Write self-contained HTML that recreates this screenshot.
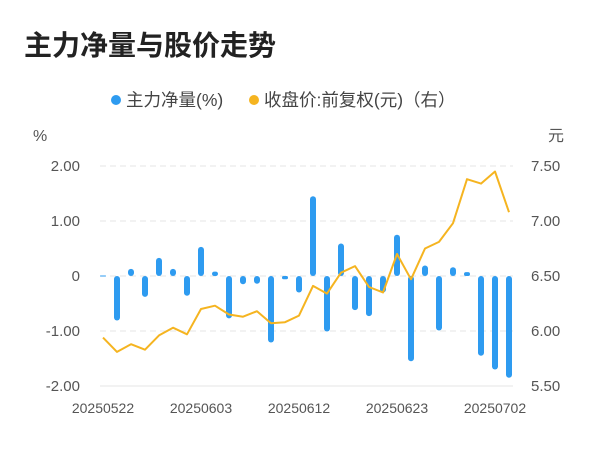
<!DOCTYPE html>
<html><head><meta charset="utf-8"><style>
body{margin:0;background:#fff;}
svg text{font-family:"Liberation Sans","Noto Sans CJK SC",sans-serif;}
</style></head><body>
<svg width="600" height="446" viewBox="0 0 600 446">
<text x="24" y="55" font-size="28" font-weight="bold" fill="#222">主力净量与股价走势</text>
<g>
 <g><circle cx="116" cy="100" r="5" fill="#2e9bf0"/><text x="126" y="106" font-size="17.5" fill="#444">主力净量(%)</text></g>
 <g><circle cx="254" cy="100" r="5" fill="#f5b420"/><text x="264" y="106" font-size="17.5" fill="#444">收盘价:前复权(元)（右）</text></g>
</g>
<text x="33" y="141" font-size="16" fill="#555">%</text>
<text x="548" y="141" font-size="16" fill="#555">元</text>
<g id="grid"></g>
<g id="bars"></g>
<g id="line"></g>
<g id="axes"></g>
</svg>
<script>
const dates=["20250522","20250523","20250526","20250527","20250528","20250529","20250530","20250603","20250604","20250605","20250606","20250609","20250610","20250611","20250612","20250613","20250616","20250617","20250618","20250619","20250620","20250623","20250624","20250625","20250626","20250627","20250630","20250701","20250702","20250703"];
const netVolume=[0.01,-0.81,0.13,-0.38,0.33,0.13,-0.36,0.53,0.08,-0.77,-0.15,-0.14,-1.21,-0.06,-0.30,1.45,-1.01,0.59,-0.62,-0.73,-0.30,0.75,-1.55,0.19,-0.99,0.16,0.07,-1.45,-1.70,-1.85];
const price=[5.94,5.81,5.88,5.83,5.96,6.03,5.97,6.20,6.23,6.15,6.13,6.18,6.07,6.08,6.14,6.41,6.34,6.53,6.59,6.40,6.35,6.70,6.47,6.75,6.81,6.98,7.38,7.34,7.45,7.08];
const leftTicks=[2,1,0,-1,-2];
const leftTickLabels=["2.00","1.00","0","-1.00","-2.00"];
const rightTickLabels=["7.50","7.00","6.50","6.00","5.50"];
const rightTicks=[7.5,7.0,6.5,6.0,5.5];
const NS="http://www.w3.org/2000/svg";
const x=i=>103+i*14;
const yL=v=>276+(0-v)*55;
const yR=v=>166+(7.5-v)*110;
function mk(t,a,p){const e=document.createElementNS(NS,t);for(const k in a)e.setAttribute(k,a[k]);p.appendChild(e);return e;}
const grid=document.getElementById('grid'),axes=document.getElementById('axes');
leftTicks.forEach((v,i)=>{
 const g=mk('line',{x1:100,x2:513,y1:yL(v),y2:yL(v),stroke:'#e6e6e6','stroke-width':1,'stroke-dasharray':i==4?'none':'6,4'},grid);
 
 
 const t=mk('text',{x:80,y:yL(v)+5,'text-anchor':'end','font-size':15,fill:'#555'},axes);
 t.textContent=leftTickLabels[i];
 
 
});
rightTicks.forEach((v,i)=>{
 const t=mk('text',{x:531,y:yR(v)+5,'font-size':15,fill:'#555'},axes);
 t.textContent=rightTickLabels[i];
 
 
});
dates.forEach((d,i)=>{
 if(i%7) return;
 const t=mk('text',{x:x(i),y:413,'text-anchor':'middle','font-size':14,fill:'#555'},axes);
 t.textContent=d;
 
 
});
const bars=document.getElementById('bars');
netVolume.forEach((v,i)=>{
 const y0=yL(0),y1=yL(v);
 const top=Math.min(y0,y1),h=Math.max(Math.abs(y1-y0),1);
 const r=mk('rect',{x:x(i)-3,y:top,width:6,height:h,rx:Math.min(3,h/2),fill:'#2e9bf0'},bars);
 
 
});
const line=document.getElementById('line');
const p=mk('polyline',{points:price.map((v,i)=>x(i)+','+yR(v)).join(' '),fill:'none',stroke:'#f5b420','stroke-width':2,'stroke-linejoin':'round'},line);


</script>
</body></html>
